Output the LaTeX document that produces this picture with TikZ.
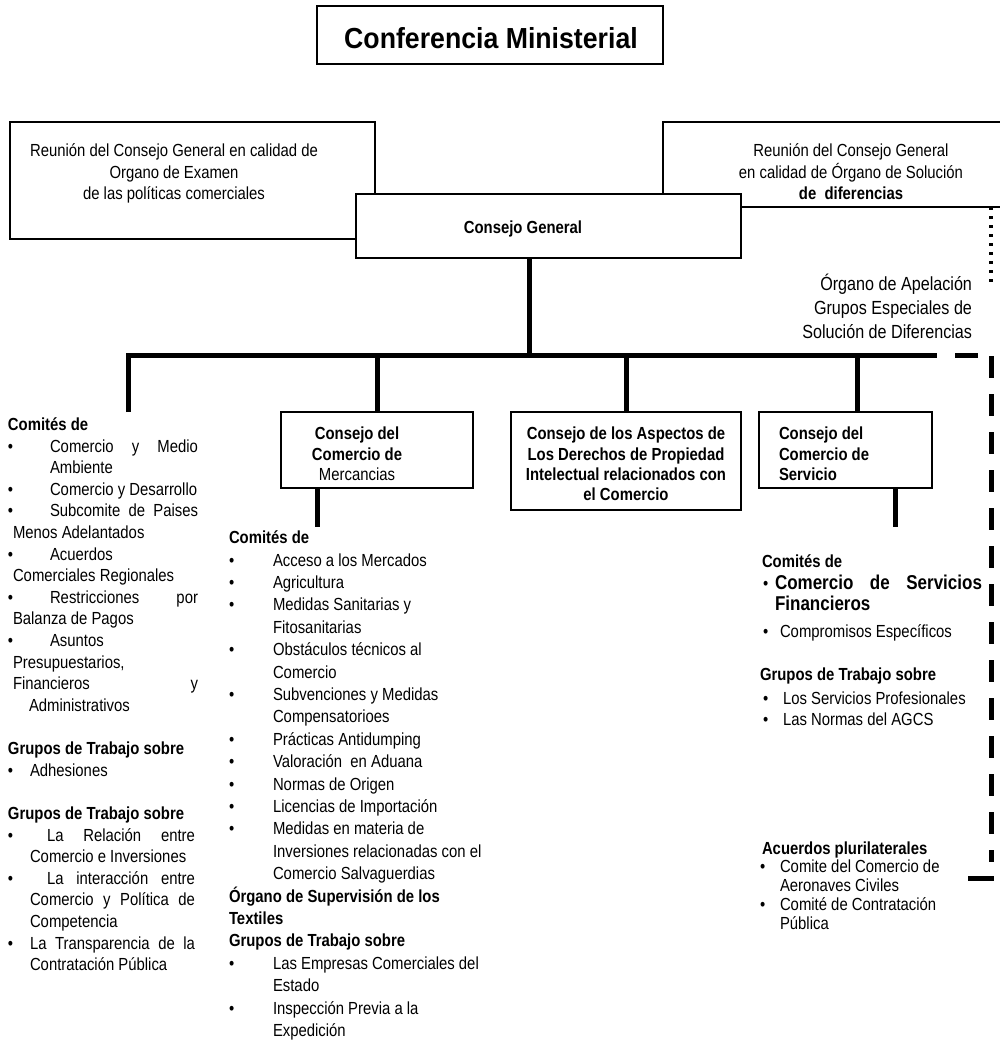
\documentclass[tikz,border=0pt]{standalone}
\usepackage{fontspec}
\setmainfont{Liberation Sans}[FakeStretch=0.85]
\newfontfamily\headfont{Liberation Sans}[FakeStretch=0.92]
\newcommand\Jst[2]{\makebox[#1pt][s]{#2}}
\tikzset{
  base/.style={inner sep=0pt, outer sep=0pt},
  txt/.style={base, anchor=mid west, font=\fontsize{17.5}{21}\selectfont},
  btxt/.style={base, anchor=mid west, font=\fontsize{17.5}{21}\selectfont\bfseries},
  bigbtxt/.style={base, anchor=mid west, font=\fontsize{20}{24}\selectfont\bfseries},
  ctr/.style={base, anchor=mid, font=\fontsize{17.5}{21}\selectfont},
  bctr/.style={base, anchor=mid, font=\fontsize{17.5}{21}\selectfont\bfseries},
  aptxt/.style={base, anchor=mid east, font=\fontsize{19}{23}\selectfont},
  box/.style={draw, line width=2pt, fill=white, base},
  conn/.style={line width=5pt},
  dashconn/.style={line width=5pt, dash pattern=on 22pt off 16pt},
  dotconn/.style={line width=4pt, dash pattern=on 3pt off 6pt},
}
\begin{document}
\begin{tikzpicture}[x=1pt, y=-1pt]
\useasboundingbox[fill=white] (0,0) rectangle (1000,1044);

% ---- top boxes ----
\node[box, minimum width=346pt, minimum height=58pt] (conf) at (490,35) {};
\node[base, font=\headfont\fontsize{29}{34}\selectfont\bfseries] (conft) at (491,38) {Conferencia Ministerial};

\node[box, minimum width=365pt, minimum height=117pt] (exam) at (192.5,180.5) {};
\node[ctr] (ex1) at (174,154) {Reunión del Consejo General en calidad de};
\node[ctr] (ex2) at (174,176) {Organo de Examen};
\node[ctr] (ex3) at (174,197) {de las políticas comerciales};

\node[box, minimum width=352pt, minimum height=85pt] (dsb) at (839,164.5) {};
\node[ctr] (ds1) at (851,154) {Reunión del Consejo General};
\node[ctr] (ds2) at (851,176) {en calidad de Órgano de Solución};
\node[bctr] (ds3) at (851,197) {de \ diferencias};

\node[box, minimum width=385pt, minimum height=64pt] (cg) at (548.5,226) {};
\node[bctr] (cgt) at (523,231) {Consejo General};

\node[aptxt] (ap1) at (972,288) {Órgano de Apelación};
\node[aptxt] (ap2) at (972,312) {Grupos Especiales de};
\node[aptxt] (ap3) at (972,336) {Solución de Diferencias};

% ---- second row boxes ----
\node[box, minimum width=192pt, minimum height=76pt] (merc) at (377,450) {};
\node[bctr] (me1) at (357,437) {Consejo del};
\node[bctr] (me2) at (357,458) {Comercio de};
\node[ctr] (me3) at (357,478) {Mercancias};

\node[box, minimum width=230pt, minimum height=98pt] (trips) at (626,461) {};
\node[bctr] (tr1) at (626,437) {Consejo de los Aspectos de};
\node[bctr] (tr2) at (626,458) {Los Derechos de Propiedad};
\node[bctr] (tr3) at (626,478) {Intelectual relacionados con};
\node[bctr] (tr4) at (626,498) {el Comercio};

\node[box, minimum width=173pt, minimum height=76pt] (serv) at (845.5,450) {};
\node[btxt] (se1) at (779,437) {Consejo del};
\node[btxt] (se2) at (779,458) {Comercio de};
\node[btxt] (se3) at (779,478) {Servicio};

% ---- connectors ----
\coordinate (barA) at (128,355);
\coordinate (barB) at (937,355);
\coordinate (leftend) at (128,412);
\draw[conn] (leftend) -- (barA) -- (barB);
\coordinate (cgx) at (529,355);
\draw[conn] (cgx |- cg.south) -- (cgx);
\draw[conn] (merc.north |- barA) -- (merc.north);
\draw[conn] (trips.north |- barA) -- (trips.north);
\coordinate (servx) at (857,355);
\draw[conn] (servx) -- (servx |- serv.north);
\coordinate (mercb) at (317,527);
\draw[conn] (mercb |- merc.south) -- (mercb);
\coordinate (servb) at (895,527);
\draw[conn] (servb |- serv.south) -- (servb);

\coordinate (dA) at (955,355);
\coordinate (dB) at (978,355);
\draw[conn] (dA) -- (dB);
\coordinate (dvT) at (991,356);
\coordinate (dvB) at (991,862);
\draw[dashconn] (dvT) -- (dvB);
\coordinate (dhA) at (968,878);
\coordinate (dhB) at (994,878);
\draw[conn] (dhA) -- (dhB);
\coordinate (dotB) at (991,284);
\draw[dotconn] (dotB |- dsb.south) -- (dotB);

% ---- left column ----
\node[btxt] (l1) at (8,428) {Comités de};
\node[txt] (lb2) at (8,450) {\textbullet};
\node[txt] (l2) at (50,450) {\Jst{148}{Comercio y Medio}};
\node[txt] (l3) at (50,471) {Ambiente};
\node[txt] (lb4) at (8,493) {\textbullet};
\node[txt] (l4) at (50,493) {Comercio y Desarrollo};
\node[txt] (lb5) at (8,514) {\textbullet};
\node[txt] (l5) at (50,514) {\Jst{148}{Subcomite de Paises}};
\node[txt] (l6) at (13,536) {Menos Adelantados};
\node[txt] (lb7) at (8,558) {\textbullet};
\node[txt] (l7) at (50,558) {Acuerdos};
\node[txt] (l8) at (13,579) {Comerciales Regionales};
\node[txt] (lb9) at (8,601) {\textbullet};
\node[txt] (l9) at (50,601) {\Jst{148}{Restricciones por}};
\node[txt] (l10) at (13,622) {Balanza de Pagos};
\node[txt] (lb11) at (8,644) {\textbullet};
\node[txt] (l11) at (50,644) {Asuntos};
\node[txt] (l12) at (13,666) {Presupuestarios,};
\node[txt] (l13) at (13,687) {\Jst{185}{Financieros y}};
\node[txt] (l14) at (29,709) {Administrativos};
\node[btxt] (l15) at (8,752) {Grupos de Trabajo sobre};
\node[txt] (lb16) at (8,774) {\textbullet};
\node[txt] (l16) at (30,774) {Adhesiones};
\node[btxt] (l17) at (8,817) {Grupos de Trabajo sobre};
\node[txt] (lb18) at (8,839) {\textbullet};
\node[txt] (l18) at (47,839) {\Jst{148}{La Relación entre}};
\node[txt] (l19) at (30,860) {Comercio e Inversiones};
\node[txt] (lb20) at (8,882) {\textbullet};
\node[txt] (l20) at (47,882) {\Jst{148}{La interacción entre}};
\node[txt] (l21) at (30,903) {\Jst{165}{Comercio y Política de}};
\node[txt] (l22) at (30,925) {Competencia};
\node[txt] (lb23) at (8,947) {\textbullet};
\node[txt] (l23) at (30,947) {\Jst{165}{La Transparencia de la}};
\node[txt] (l24) at (30,968) {Contratación Pública};

% ---- middle column ----
\node[btxt] (m1) at (229,541) {Comités de};
\node[txt] (mb2) at (229,563.4) {\textbullet};
\node[txt] (m2) at (273,563.4) {Acceso a los Mercados};
\node[txt] (mb3) at (229,585.8) {\textbullet};
\node[txt] (m3) at (273,585.8) {Agricultura};
\node[txt] (mb4) at (229,608.2) {\textbullet};
\node[txt] (m4) at (273,608.2) {Medidas Sanitarias y};
\node[txt] (m5) at (273,630.6) {Fitosanitarias};
\node[txt] (mb6) at (229,653) {\textbullet};
\node[txt] (m6) at (273,653) {Obstáculos técnicos al};
\node[txt] (m7) at (273,675.4) {Comercio};
\node[txt] (mb8) at (229,697.8) {\textbullet};
\node[txt] (m8) at (273,697.8) {Subvenciones y Medidas};
\node[txt] (m9) at (273,720.2) {Compensatorioes};
\node[txt] (mb10) at (229,742.6) {\textbullet};
\node[txt] (m10) at (273,742.6) {Prácticas Antidumping};
\node[txt] (mb11) at (229,765) {\textbullet};
\node[txt] (m11) at (273,765) {Valoración \ en Aduana};
\node[txt] (mb12) at (229,787.4) {\textbullet};
\node[txt] (m12) at (273,787.4) {Normas de Origen};
\node[txt] (mb13) at (229,809.8) {\textbullet};
\node[txt] (m13) at (273,809.8) {Licencias de Importación};
\node[txt] (mb14) at (229,832.2) {\textbullet};
\node[txt] (m14) at (273,832.2) {Medidas en materia de};
\node[txt] (m15) at (273,854.6) {Inversiones relacionadas con el};
\node[txt] (m16) at (273,877) {Comercio Salvaguerdias};
\node[btxt] (m17) at (229,899.4) {Órgano de Supervisión de los};
\node[btxt] (m18) at (229,921.8) {Textiles};
\node[btxt] (m19) at (229,944.2) {Grupos de Trabajo sobre};
\node[txt] (mb20) at (229,966.6) {\textbullet};
\node[txt] (m20) at (273,966.6) {Las Empresas Comerciales del};
\node[txt] (m21) at (273,989) {Estado};
\node[txt] (mb22) at (229,1011.4) {\textbullet};
\node[txt] (m22) at (273,1011.4) {Inspección Previa a la};
\node[txt] (m23) at (273,1033.8) {Expedición};

% ---- right column ----
\node[btxt] (r1) at (762,565) {Comités de};
\node[txt] (rb2) at (763,587) {\textbullet};
\node[bigbtxt] (r2) at (775,587) {\makebox[207pt][s]{Comercio de Servicios}};
\node[bigbtxt] (r3) at (775,608) {Financieros};
\node[txt] (rb4) at (763,635) {\textbullet};
\node[txt] (r4) at (780,635) {Compromisos Específicos};
\node[btxt] (r5) at (760,678) {Grupos de Trabajo sobre};
\node[txt] (rb6) at (763,702) {\textbullet};
\node[txt] (r6) at (783,702) {Los Servicios Profesionales};
\node[txt] (rb7) at (763,723) {\textbullet};
\node[txt] (r7) at (783,723) {Las Normas del AGCS};
\node[btxt] (r8) at (762,852) {Acuerdos plurilaterales};
\node[txt] (rb9) at (760,870) {\textbullet};
\node[txt] (r9) at (780,870) {Comite del Comercio de};
\node[txt] (r10) at (780,889) {Aeronaves Civiles};
\node[txt] (rb11) at (760,908) {\textbullet};
\node[txt] (r11) at (780,908) {Comité de Contratación};
\node[txt] (r12) at (780,927) {Pública};
\end{tikzpicture}
\end{document}
